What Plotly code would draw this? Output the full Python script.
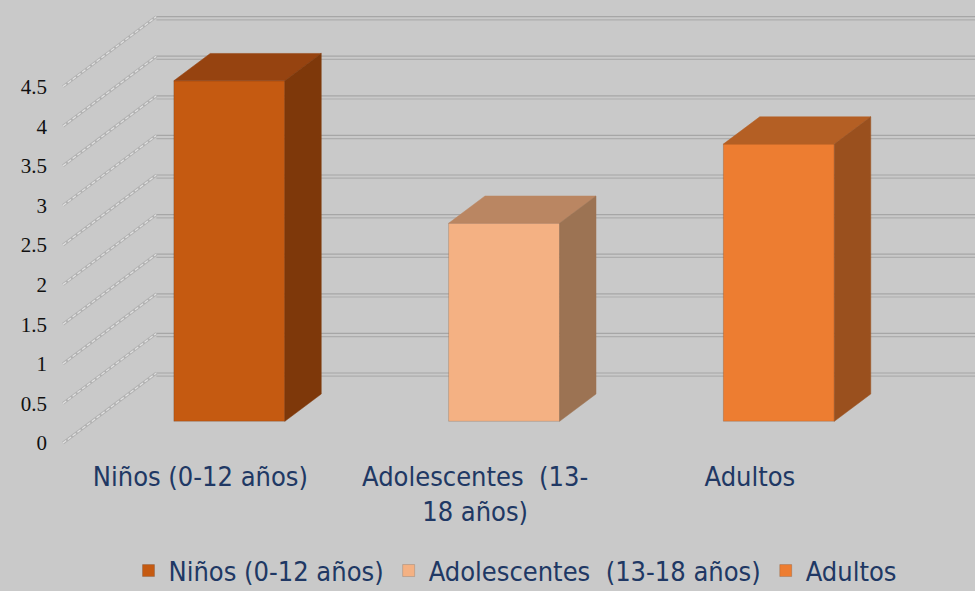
import plotly.graph_objects as go

# ---- data ----
categories = ["Niños (0-12 años)", "Adolescentes  (13-18 años)", "Adultos"]
axis_labels = ["Niños (0-12 años)", "Adolescentes  (13-<br>18 años)", "Adultos"]
values = [4.3, 2.5, 3.5]
y_ticks = [0, 0.5, 1, 1.5, 2, 2.5, 3, 3.5, 4, 4.5]
y_tick_text = ["0", "0.5", "1", "1.5", "2", "2.5", "3", "3.5", "4", "4.5"]

# ---- styles ----
front_colors = ["#C55A11", "#F4B183", "#ED7D31"]
top_colors = ["#964310", "#BA8662", "#B45F24"]
side_colors = ["#7E380A", "#9C7353", "#9A501E"]
BG = "#C9C9C9"
TXT = "#203864"

W, H = 975, 591
L, B = 48, 458            # plot area: x from L to W, y from 0 to B (pixels)
PX_PER_CAT = 274.75
PX_PER_VAL = 79.2
ZERO_PX = 443             # pixel row of value 0 on front edge
WALL_PX = 63              # pixel col of front-left wall edge (category -0.5)

xmin = -0.5 - (WALL_PX - L) / PX_PER_CAT
xmax = xmin + (W - L) / PX_PER_CAT
ymax = ZERO_PX / PX_PER_VAL
ymin = -(B - ZERO_PX) / PX_PER_VAL

# oblique depth offsets (full depth of the chart box) in data units
DX = 93.4 / PX_PER_CAT
DY = 70.0 / PX_PER_VAL
DF, DB = 0.31, 0.70       # bar front/back depth fractions
BW = 0.404                # bar width in category units

fig = go.Figure()

# front faces (bars, carry the legend)
for i, (cat, v) in enumerate(zip(categories, values)):
    fig.add_trace(go.Bar(
        x=[i + DF * DX], y=[v], base=[DF * DY], width=[BW],
        name=cat, marker=dict(color=front_colors[i], line=dict(width=0.8, color="rgba(0,0,0,0.18)")),
        showlegend=True, hoverinfo="skip"))

# top and side faces
dd = DB - DF
for i, v in enumerate(values):
    xl = i + DF * DX - BW / 2
    xr = i + DF * DX + BW / 2
    b0 = DF * DY
    t0 = b0 + v
    fig.add_trace(go.Scatter(
        x=[xl, xr, xr + dd * DX, xl + dd * DX, xl],
        y=[t0, t0, t0 + dd * DY, t0 + dd * DY, t0],
        fill="toself", fillcolor=top_colors[i], mode="lines",
        line=dict(width=0.5, color=top_colors[i]), showlegend=False, hoverinfo="skip"))
    fig.add_trace(go.Scatter(
        x=[xr, xr, xr + dd * DX, xr + dd * DX, xr],
        y=[b0, t0, t0 + dd * DY, b0 + dd * DY, b0],
        fill="toself", fillcolor=side_colors[i], mode="lines",
        line=dict(width=0.5, color=side_colors[i]), showlegend=False, hoverinfo="skip"))

# gridlines: side-wall diagonals + back-wall doubles (below traces)
shapes = []
off = 3.2 / PX_PER_VAL
for v in y_ticks:
    x0, y0 = -0.5, v
    x1, y1 = -0.5 + DX, v + DY
    shapes.append(dict(type="line", xref="x", yref="y", x0=x0, y0=y0, x1=x1, y1=y1,
                       line=dict(color="#B2B2B2", width=3), layer="below"))
    shapes.append(dict(type="line", xref="x", yref="y", x0=x0, y0=y0, x1=x1, y1=y1,
                       line=dict(color="#E2E2E2", width=1.2, dash="4px,2px"), layer="below"))
    shapes.append(dict(type="line", xref="x", yref="y", x0=x1, y0=y1, x1=xmax, y1=y1,
                       line=dict(color="#A6A6A6", width=1.2), layer="below"))
    shapes.append(dict(type="line", xref="x", yref="y", x0=x1, y0=y1 - off, x1=xmax, y1=y1 - off,
                       line=dict(color="#ADADAD", width=1.2), layer="below"))

fig.update_layout(
    width=W, height=H,
    paper_bgcolor=BG, plot_bgcolor=BG,
    margin=dict(l=L, r=0, t=0, b=H - B),
    barmode="overlay",
    shapes=shapes,
    font=dict(family="DejaVu Sans Condensed", color=TXT, size=27),
    xaxis=dict(range=[xmin, xmax], showgrid=False, zeroline=False, showline=False,
               tickmode="array", tickvals=[0, 1, 2], ticktext=axis_labels,
               tickfont=dict(family="DejaVu Sans Condensed", size=27, color=TXT),
               ticks="", fixedrange=True),
    yaxis=dict(range=[ymin, ymax], showgrid=False, zeroline=False, showline=False,
               tickmode="array", tickvals=y_ticks, ticktext=y_tick_text,
               tickfont=dict(family="Liberation Serif", size=21, color="#111111"),
               ticks="", fixedrange=True),
    legend=dict(orientation="h", x=515 / W, xanchor="center", xref="container",
                y=(H - 571) / H, yanchor="middle", yref="container",
                font=dict(family="DejaVu Sans Condensed", size=27, color=TXT),
                bgcolor="rgba(0,0,0,0)", itemwidth=30, traceorder="normal"),
)

fig.write_html("out.html")
